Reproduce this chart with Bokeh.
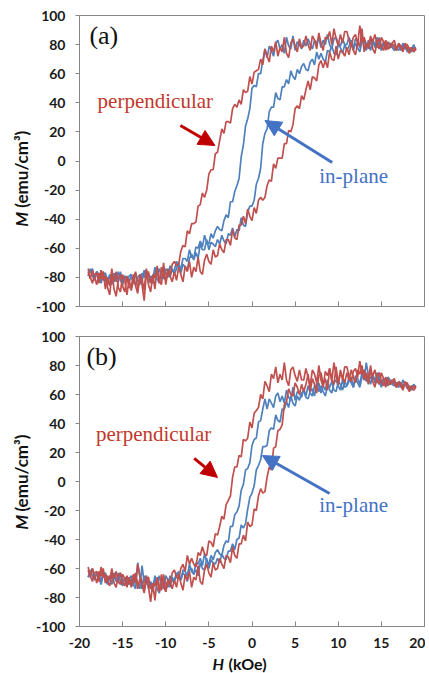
import math
from bokeh.plotting import figure
from bokeh.layouts import column, row
from bokeh.models import Label, Arrow, NormalHead, FixedTicker, Range1d
from bokeh.embed import file_html
from bokeh.resources import INLINE

# ---------------- data ----------------
H = [-19.0, -18.75, -18.5, -18.25, -18.0, -17.75, -17.5, -17.25, -17.0, -16.75,
     -16.5, -16.25, -16.0, -15.75, -15.5, -15.25, -15.0, -14.75, -14.5, -14.25,
     -14.0, -13.75, -13.5, -13.25, -13.0, -12.75, -12.5, -12.25, -12.0, -11.75,
     -11.5, -11.25, -11.0, -10.75, -10.5, -10.25, -10.0, -9.75, -9.5, -9.25,
     -9.0, -8.75, -8.5, -8.25, -8.0, -7.75, -7.5, -7.25, -7.0, -6.75,
     -6.5, -6.25, -6.0, -5.75, -5.5, -5.25, -5.0, -4.75, -4.5, -4.25,
     -4.0, -3.75, -3.5, -3.25, -3.0, -2.75, -2.5, -2.25, -2.0, -1.75,
     -1.5, -1.25, -1.0, -0.75, -0.5, -0.25, 0.0, 0.25, 0.5, 0.75,
     1.0, 1.25, 1.5, 1.75, 2.0, 2.25, 2.5, 2.75, 3.0, 3.25,
     3.5, 3.75, 4.0, 4.25, 4.5, 4.75, 5.0, 5.25, 5.5, 5.75,
     6.0, 6.25, 6.5, 6.75, 7.0, 7.25, 7.5, 7.75, 8.0, 8.25,
     8.5, 8.75, 9.0, 9.25, 9.5, 9.75, 10.0, 10.25, 10.5, 10.75,
     11.0, 11.25, 11.5, 11.75, 12.0, 12.25, 12.5, 12.75, 13.0, 13.25,
     13.5, 13.75, 14.0, 14.25, 14.5, 14.75, 15.0, 15.25, 15.5, 15.75,
     16.0, 16.25, 16.5, 16.75, 17.0, 17.25, 17.5, 17.75, 18.0, 18.25,
     18.5, 18.75, 19.0]

# panel (a): perpendicular (red) and in-plane (blue); DOWN = branch swept from +H, UP = from -H
A_PERP_DOWN = [-76, -81, -75, -80, -85, -77, -81, -76, -88, -80, -86, -74, -88, -93, -81, -78, -86, -90, -79, -87,
               -87, -78, -86, -91, -78, -81, -89, -74, -85, -90, -78, -80, -74, -84, -73, -79, -82, -74, -79, -71,
               -69, -72, -71, -62, -58, -59, -48, -50, -43, -43, -42, -31, -30, -22, -25, -20, -9, -6, -6, 5,
               6, 14, 22, 19, 27, 27, 26, 36, 39, 37, 42, 39, 49, 47, 48, 58, 53, 61, 62, 63,
               70, 66, 77, 72, 68, 79, 75, 82, 72, 78, 75, 85, 74, 71, 81, 84, 79, 75, 84, 78,
               79, 86, 80, 76, 86, 83, 77, 88, 81, 76, 85, 84, 89, 80, 91, 84, 79, 87, 81, 89,
               89, 83, 79, 85, 87, 80, 93, 82, 85, 80, 77, 85, 82, 87, 80, 77, 85, 82, 76, 82,
               78, 81, 83, 77, 80, 78, 75, 80, 80, 77, 78, 75, 77]
A_PERP_UP = [-74, -80, -84, -78, -77, -84, -75, -82, -79, -87, -92, -78, -83, -76, -87, -90, -78, -82, -92, -81,
             -89, -82, -76, -89, -80, -85, -96, -77, -76, -84, -79, -88, -72, -82, -85, -70, -85, -76, -79, -83,
             -76, -82, -73, -78, -83, -72, -76, -69, -80, -73, -76, -66, -76, -78, -68, -64, -69, -71, -61, -66,
             -65, -57, -61, -63, -54, -54, -58, -47, -53, -54, -44, -44, -38, -43, -33, -38, -41, -32, -36, -27,
             -25, -27, -25, -17, -13, -14, -2, -5, 2, 2, 2, 12, 12, 21, 20, 25, 36, 38, 36, 45,
             42, 49, 55, 49, 58, 57, 55, 66, 69, 64, 69, 64, 75, 70, 69, 79, 70, 76, 75, 72,
             78, 73, 81, 76, 73, 81, 79, 91, 75, 81, 78, 86, 77, 74, 82, 84, 79, 76, 83, 77,
             78, 81, 78, 76, 81, 79, 76, 81, 77, 74, 78, 76, 78]
A_INPL_DOWN = [-79, -76, -74, -81, -76, -80, -84, -78, -77, -82, -79, -85, -77, -82, -83, -76, -84, -79, -81, -83,
               -79, -84, -77, -82, -85, -77, -80, -75, -84, -79, -81, -73, -81, -84, -75, -73, -77, -80, -72, -76,
               -75, -69, -72, -74, -67, -67, -69, -61, -66, -67, -59, -60, -55, -59, -51, -56, -57, -50, -53, -48,
               -45, -47, -48, -41, -37, -39, -28, -28, -21, -17, -12, 3, 11, 24, 29, 36, 50, 52, 51, 60,
               60, 69, 77, 71, 79, 76, 72, 81, 83, 77, 80, 74, 85, 79, 77, 86, 76, 82, 80, 77,
               83, 79, 84, 80, 77, 83, 81, 85, 78, 83, 80, 87, 80, 77, 84, 85, 81, 79, 84, 80,
               80, 85, 81, 78, 84, 83, 78, 85, 79, 76, 83, 80, 83, 78, 85, 79, 76, 81, 77, 81,
               81, 78, 76, 78, 79, 76, 81, 77, 78, 76, 75, 78, 77]
A_INPL_UP = [-79, -74, -79, -82, -76, -78, -82, -76, -82, -85, -78, -81, -78, -83, -76, -82, -85, -79, -83, -79,
             -78, -83, -85, -80, -78, -83, -75, -81, -78, -82, -84, -77, -78, -74, -80, -81, -74, -76, -80, -74,
             -78, -74, -70, -77, -71, -73, -75, -67, -64, -68, -63, -67, -57, -61, -61, -54, -61, -56, -57, -59,
             -54, -57, -51, -55, -57, -50, -51, -46, -52, -47, -48, -39, -44, -45, -35, -31, -31, -27, -16, -12,
             -5, 12, 19, 22, 34, 37, 37, 47, 43, 42, 51, 51, 56, 53, 62, 58, 56, 63, 60, 65,
             67, 63, 62, 68, 70, 66, 75, 70, 74, 70, 68, 76, 75, 79, 74, 73, 80, 78, 74, 80,
             76, 79, 83, 76, 81, 78, 75, 82, 83, 78, 81, 76, 84, 79, 78, 85, 77, 82, 79, 77,
             80, 78, 80, 78, 76, 79, 78, 79, 75, 77, 76, 80, 76]

# panel (b)
B_PERP_DOWN = [-61, -66, -60, -65, -70, -62, -65, -60, -70, -65, -68, -60, -70, -73, -65, -63, -69, -72, -65, -70,
               -71, -64, -70, -57, -65, -69, -75, -65, -73, -83, -70, -72, -67, -76, -64, -72, -76, -67, -72, -63,
               -61, -66, -67, -60, -57, -62, -51, -57, -53, -57, -59, -49, -51, -45, -50, -51, -41, -42, -45, -36,
               -37, -31, -24, -26, -16, -13, -10, 3, 10, 10, 18, 17, 29, 28, 30, 41, 37, 47, 49, 51,
               60, 57, 69, 66, 62, 74, 71, 79, 68, 74, 70, 82, 70, 66, 77, 79, 73, 69, 77, 70,
               70, 78, 72, 66, 77, 74, 68, 80, 70, 65, 76, 73, 78, 69, 82, 73, 67, 77, 70, 79,
               79, 73, 69, 76, 78, 72, 83, 74, 77, 72, 67, 76, 73, 77, 70, 67, 75, 71, 65, 71,
               67, 69, 71, 65, 68, 66, 63, 68, 68, 64, 65, 63, 65]
B_PERP_UP = [-59, -65, -69, -63, -62, -69, -59, -66, -64, -69, -72, -63, -67, -62, -69, -71, -64, -67, -73, -66,
             -73, -68, -63, -74, -67, -71, -77, -67, -66, -74, -71, -82, -66, -73, -75, -64, -76, -69, -70, -74,
             -68, -73, -64, -70, -75, -64, -68, -62, -73, -66, -68, -58, -69, -71, -61, -57, -63, -66, -56, -61,
             -60, -53, -57, -60, -51, -52, -56, -45, -51, -53, -43, -43, -37, -41, -28, -31, -30, -19, -20, -10,
             -5, -8, -7, 3, 10, 8, 23, 24, 35, 36, 39, 53, 55, 64, 60, 59, 68, 65, 60, 67,
             62, 67, 74, 62, 71, 67, 61, 73, 75, 67, 71, 63, 78, 70, 67, 79, 67, 75, 72, 68,
             75, 70, 77, 72, 68, 77, 74, 80, 70, 75, 71, 80, 69, 65, 73, 75, 69, 66, 72, 67,
             67, 70, 67, 65, 69, 68, 64, 69, 65, 62, 66, 65, 66]
B_INPL_DOWN = [-66, -63, -60, -67, -63, -66, -71, -64, -63, -68, -66, -71, -63, -68, -70, -63, -71, -66, -69, -71,
               -67, -72, -65, -70, -74, -58, -70, -65, -74, -69, -73, -65, -74, -77, -68, -66, -70, -73, -65, -69,
               -68, -63, -66, -68, -61, -62, -65, -57, -62, -64, -56, -57, -53, -58, -50, -55, -57, -51, -54, -49,
               -47, -50, -51, -44, -41, -42, -31, -31, -23, -21, -17, -6, -2, 8, 9, 13, 25, 29, 30, 41,
               42, 50, 57, 50, 57, 54, 51, 59, 61, 55, 59, 54, 63, 58, 56, 65, 56, 62, 61, 58,
               64, 59, 66, 61, 59, 66, 64, 68, 61, 66, 63, 70, 63, 61, 68, 70, 66, 63, 70, 65,
               66, 72, 68, 65, 73, 71, 67, 75, 70, 82, 73, 71, 74, 68, 75, 69, 65, 71, 66, 72,
               70, 67, 66, 68, 68, 65, 70, 67, 67, 65, 63, 66, 65]
B_INPL_UP = [-66, -61, -65, -68, -63, -64, -69, -62, -68, -71, -65, -67, -64, -69, -63, -69, -72, -66, -71, -67,
             -65, -71, -74, -56, -66, -74, -65, -71, -68, -73, -76, -68, -71, -65, -72, -74, -65, -68, -73, -66,
             -69, -65, -62, -68, -63, -65, -69, -61, -60, -64, -61, -65, -56, -60, -61, -53, -60, -54, -56, -57,
             -53, -56, -50, -53, -54, -48, -48, -43, -47, -40, -39, -30, -32, -29, -19, -11, -8, -3, 8, 11,
             15, 24, 24, 25, 35, 37, 36, 46, 42, 41, 50, 50, 55, 51, 59, 54, 52, 59, 56, 61,
             63, 58, 57, 62, 64, 59, 68, 62, 66, 62, 59, 66, 65, 69, 63, 62, 69, 67, 63, 69,
             66, 69, 72, 65, 71, 68, 65, 72, 74, 69, 72, 67, 74, 69, 68, 75, 66, 71, 68, 66,
             69, 67, 69, 67, 65, 68, 66, 68, 64, 66, 64, 67, 65]

X_TICKS = [-20, -15, -10, -5, 0, 5, 10, 15, 20]
Y_TICKS = [-100, -80, -60, -40, -20, 0, 20, 40, 60, 80, 100]
PANEL_NAMES = ["(a)", "(b)"]
SERIES_NAMES = ["perpendicular", "in-plane"]
Y_LABEL = ("M", "(emu/cm³)")
X_LABEL = ("H", "(kOe)")

for arr in (A_PERP_DOWN, A_PERP_UP, A_INPL_DOWN, A_INPL_UP,
            B_PERP_DOWN, B_PERP_UP, B_INPL_DOWN, B_INPL_UP):
    assert len(arr) == len(H)

# ---------------- styling ----------------
RED = "#C0504D"
BLUE = "#4F81BD"
RED_TXT = "#C0392B"
RED_ARROW = "#C00000"
BLUE_TXT = "#4472C4"
GRAY = "#868686"
SANS = "Lato"
SERIF = "Liberation Serif"
LW = 1.7
LABEL_W = 32          # width of the strip that carries the y-axis title
FIG_W = 423
PA_H = 321            # 15 + 291 + 15
PB_BOTTOM = 28
PB_H = 15 + 290 + PB_BOTTOM
XT_H = 673 - PA_H - PB_H


def text_strip(width, height):
    """A blank, axis-less figure whose data units are pixels (y measured upward)."""
    s = figure(width=width, height=height, x_range=Range1d(0, width),
               y_range=Range1d(0, height), x_axis_type=None, y_axis_type=None,
               output_backend="svg", toolbar_location=None, min_border=0,
               outline_line_color=None, background_fill_color="white",
               border_fill_color="white")
    s.grid.visible = False
    return s


def y_title(height, y_symbol, y_unit):
    s = text_strip(LABEL_W, height)
    s.add_layout(Label(x=21, y=y_symbol, text=Y_LABEL[0], angle=math.pi / 2,
                       text_font=SANS, text_font_style="bold italic",
                       text_font_size="17px", text_color="#111111",
                       text_align="left", text_baseline="alphabetic"))
    s.add_layout(Label(x=21, y=y_unit, text=Y_LABEL[1], angle=math.pi / 2,
                       text_font=SANS, text_font_style="bold",
                       text_font_size="17px", text_color="#111111",
                       text_align="left", text_baseline="alphabetic"))
    return s


def make_panel(name, perp_down, perp_up, inpl_down, inpl_up, bottom, cfg):
    p = figure(frame_width=345, frame_height=290 if bottom else 291,
               x_range=Range1d(-20, 20), y_range=Range1d(-100, 100),
               output_backend="svg", toolbar_location=None,
               min_border_left=77 - LABEL_W, min_border_right=1,
               min_border_top=15,
               min_border_bottom=PB_BOTTOM if bottom else 15,
               background_fill_color="white", border_fill_color="white")
    p.grid.visible = False
    p.outline_line_color = GRAY
    p.outline_line_width = 1

    for ax in (p.xaxis[0], p.yaxis[0]):
        ax.axis_line_color = GRAY
        ax.major_tick_line_color = GRAY
        ax.minor_tick_line_color = None
        ax.major_label_text_font = SANS
        ax.major_label_text_font_style = "bold"
        ax.major_label_text_font_size = "14px"
        ax.major_label_text_color = "#1a1a1a"

    p.yaxis.ticker = FixedTicker(ticks=Y_TICKS)
    p.yaxis.major_label_overrides = {t: str(t) for t in Y_TICKS}
    p.yaxis.major_tick_out = 4
    p.yaxis.major_tick_in = 0
    p.yaxis.major_label_standoff = 10

    p.xaxis.ticker = FixedTicker(ticks=X_TICKS)
    p.xaxis.major_tick_out = 0
    p.xaxis.major_tick_in = 5
    if bottom:
        p.xaxis.major_label_overrides = {t: str(t) for t in X_TICKS}
        p.xaxis.major_label_standoff = 11
    else:
        p.xaxis.major_label_overrides = {t: "" for t in X_TICKS}
        p.xaxis.major_label_standoff = 0

    # loops: in-plane below, perpendicular on top
    p.line(H, inpl_down, line_color=BLUE, line_width=LW)
    p.line(H, inpl_up, line_color=BLUE, line_width=LW)
    p.line(H, perp_down, line_color=RED, line_width=LW)
    p.line(H, perp_up, line_color=RED, line_width=LW)

    p.add_layout(Label(x=cfg["name_x"], y=96.5, text=name, text_font=SERIF,
                       text_font_size="26px", text_color="#111111",
                       text_baseline="top"))
    p.add_layout(Label(x=cfg["perp"][0], y=cfg["perp"][1], text=SERIES_NAMES[0],
                       text_font=SERIF, text_font_size="21px",
                       text_color=RED_TXT, text_baseline="alphabetic"))
    p.add_layout(Label(x=cfg["inpl"][0], y=cfg["inpl"][1], text=SERIES_NAMES[1],
                       text_font=SERIF, text_font_size="21px",
                       text_color=BLUE_TXT, text_baseline="alphabetic"))
    ar, ab = cfg["arrow_r"], cfg["arrow_b"]
    p.add_layout(Arrow(end=NormalHead(size=16, fill_color=RED_ARROW,
                                      line_color=RED_ARROW),
                       x_start=ar[0], y_start=ar[1], x_end=ar[2], y_end=ar[3],
                       line_color=RED_ARROW, line_width=3))
    p.add_layout(Arrow(end=NormalHead(size=16, fill_color=BLUE_TXT,
                                      line_color=BLUE_TXT),
                       x_start=ab[0], y_start=ab[1], x_end=ab[2], y_end=ab[3],
                       line_color=BLUE_TXT, line_width=3))
    return p


cfg_a = dict(name_x=-18.85, perp=(-17.9, 41.0), inpl=(7.8, -10.5),
             arrow_r=(-8.3, 24.4, -4.3, 10.7), arrow_b=(9.3, -1.0, 1.5, 27.8))
cfg_b = dict(name_x=-19.2, perp=(-18.1, 33.0), inpl=(7.8, -16.5),
             arrow_r=(-6.7, 15.9, -4.0, 2.8), arrow_b=(9.0, -8.3, 1.2, 17.9))

pa = make_panel(PANEL_NAMES[0], A_PERP_DOWN, A_PERP_UP, A_INPL_DOWN, A_INPL_UP, False, cfg_a)
pb = make_panel(PANEL_NAMES[1], B_PERP_DOWN, B_PERP_UP, B_INPL_DOWN, B_INPL_UP, True, cfg_b)

# y titles: one strip beside each panel (page y 0..321 and 321..654)
ya = y_title(PA_H, PA_H - 233, PA_H - 212)
yb = y_title(PB_H, PB_H - (543 - PA_H), PB_H - (522 - PA_H))

# x title strip at the very bottom of the page
xt = text_strip(FIG_W, XT_H)
xt.add_layout(Label(x=212, y=10, text=X_LABEL[0], text_font=SANS,
                    text_font_style="bold italic", text_font_size="16px",
                    text_color="#111111", text_align="left",
                    text_baseline="alphabetic"))
xt.add_layout(Label(x=228, y=10, text=X_LABEL[1], text_font=SANS,
                    text_font_style="bold", text_font_size="16px",
                    text_color="#111111", text_align="left",
                    text_baseline="alphabetic"))

layout = column(row(ya, pa, spacing=0), row(yb, pb, spacing=0), xt, spacing=0)
open("out.html", "w").write(file_html(layout, INLINE))
